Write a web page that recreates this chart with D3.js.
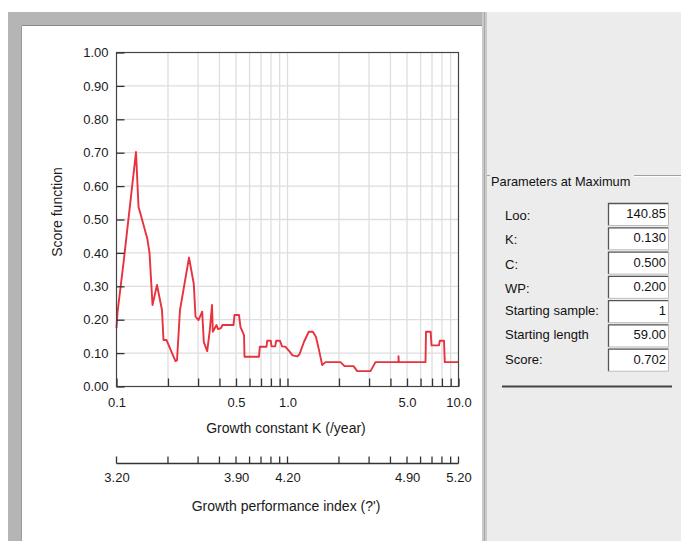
<!DOCTYPE html>
<html>
<head>
<meta charset="utf-8">
<script src="https://cdn.jsdelivr.net/npm/d3@7/dist/d3.min.js"></script>
<style>
  html, body { margin: 0; padding: 0; background: #ffffff; }
  svg { display: block; font-family: "Liberation Sans", Arial, sans-serif; }
</style>
</head>
<body>
<svg id="chart" width="681" height="541"></svg>
<script>
// ELEFAN-style score function scan over the growth constant K
const kValues = [
  0.100, 0.1014, 0.1099, 0.130, 0.1345, 0.1512, 0.1560, 0.1624, 0.1725, 0.1845,
  0.1883, 0.1961, 0.2213, 0.2259, 0.2351, 0.2655, 0.2832, 0.2897, 0.3017, 0.3171,
  0.3240, 0.3392, 0.3513, 0.3619, 0.3658, 0.3845, 0.3924, 0.4085, 0.4169, 0.4832,
  0.4898, 0.5205, 0.5311, 0.5568, 0.5605, 0.6813, 0.6887, 0.7538, 0.7610, 0.7987,
  0.8063, 0.8474, 0.8589, 0.9040, 0.9287, 0.9734, 1.0205, 1.0696, 1.1444, 1.1757,
  1.2490, 1.3321, 1.4061, 1.4680, 1.5287, 1.5959, 1.6681, 2.0417, 2.1544, 2.4322,
  2.5561, 3.0581, 3.2704, 4.4574, 4.4574, 4.476, 6.412, 6.455, 6.877, 6.952,
  7.691, 7.773, 8.226, 8.316, 10.0
];
const scoreValues = [
  0.175, 0.223, 0.370, 0.702, 0.538, 0.444, 0.400, 0.244, 0.304, 0.229,
  0.139, 0.139, 0.076, 0.079, 0.229, 0.386, 0.307, 0.209, 0.199, 0.224,
  0.133, 0.106, 0.169, 0.244, 0.164, 0.184, 0.172, 0.175, 0.184, 0.184,
  0.214, 0.214, 0.178, 0.154, 0.089, 0.089, 0.119, 0.119, 0.137, 0.137,
  0.120, 0.120, 0.137, 0.137, 0.120, 0.119, 0.107, 0.093, 0.090, 0.097,
  0.134, 0.164, 0.164, 0.148, 0.109, 0.064, 0.073, 0.073, 0.061, 0.061,
  0.046, 0.046, 0.073, 0.073, 0.091, 0.073, 0.073, 0.164, 0.164, 0.123,
  0.123, 0.137, 0.137, 0.073, 0.073
];

// axis ticks
const scoreTicks = [0, 0.1, 0.2, 0.3, 0.4, 0.5, 0.6, 0.7, 0.8, 0.9, 1.0];
const kTicks = [0.1, 0.2, 0.3, 0.4, 0.5, 0.6, 0.7, 0.8, 0.9, 1, 2, 3, 4, 5, 6, 7, 8, 9, 10];
const kLabelTicks = [0.1, 0.5, 1, 5, 10];
const kTickLabels = ["0.1", "0.5", "1.0", "5.0", "10.0"];
const phiLabelTicks = [3.2, 3.9, 4.2, 4.9, 5.2];
const phiTickLabels = ["3.20", "3.90", "4.20", "4.90", "5.20"];

// parameter panel
const paramLabels = ["Loo:", "K:", "C:", "WP:", "Starting sample:", "Starting length", "Score:"];
const paramValues = ["140.85", "0.130", "0.500", "0.200", "1", "59.00", "0.702"];

const svg = d3.select("#chart");

// ---- window chrome ----
svg.append("rect").attr("x", 487).attr("y", 12).attr("width", 194).attr("height", 529).attr("fill", "#ececec");
svg.append("rect").attr("x", 8).attr("y", 12).attr("width", 474).attr("height", 14).attr("fill", "#b5b5b5");
svg.append("rect").attr("x", 8).attr("y", 12).attr("width", 14).attr("height", 529).attr("fill", "#b5b5b5");
svg.append("rect").attr("x", 22).attr("y", 26).attr("width", 460).attr("height", 515).attr("fill", "#ffffff");
svg.append("line").attr("x1", 22).attr("x2", 482).attr("y1", 25.5).attr("y2", 25.5).attr("stroke", "#8a8a8a");
svg.append("line").attr("x1", 21.5).attr("x2", 21.5).attr("y1", 26).attr("y2", 541).attr("stroke", "#9a9a9a");
svg.append("rect").attr("x", 482).attr("y", 12).attr("width", 5).attr("height", 529).attr("fill", "#c9c9c9");
svg.append("line").attr("x1", 484.5).attr("x2", 484.5).attr("y1", 12).attr("y2", 541).attr("stroke", "#a8a8a8");

// ---- plot ----
const x = d3.scaleLog().domain([0.1, 10]).range([116.5, 458.5]);
const y = d3.scaleLinear().domain([0, 1]).range([386.5, 52.5]);
const phi = d3.scaleLinear().domain([3.2, 5.2]).range([116.5, 458.5]);

const plot = svg.append("g");

// grid
plot.append("g").selectAll("line").data(kTicks.slice(1, -1)).join("line")
  .attr("x1", d => x(d)).attr("x2", d => x(d))
  .attr("y1", y(0)).attr("y2", y(1))
  .attr("stroke", "#dedede").attr("stroke-width", 1.3);
plot.append("g").selectAll("line").data(scoreTicks.slice(1, -1)).join("line")
  .attr("x1", x(0.1)).attr("x2", x(10))
  .attr("y1", d => y(d)).attr("y2", d => y(d))
  .attr("stroke", "#dedede").attr("stroke-width", 1.3);

// score curve
const line = d3.line().x((d, i) => x(kValues[i])).y(d => y(d));
plot.append("path").datum(scoreValues)
  .attr("d", line)
  .attr("fill", "none")
  .attr("stroke", "#e8323e")
  .attr("stroke-width", 1.9)
  .attr("stroke-linejoin", "round");

// frame
plot.append("rect")
  .attr("x", x(0.1)).attr("y", y(1))
  .attr("width", x(10) - x(0.1)).attr("height", y(0) - y(1))
  .attr("fill", "none").attr("stroke", "#444").attr("stroke-width", 1.2);

const labelStyle = sel => sel.selectAll("text")
  .attr("fill", "#1a1a1a").style("font-size", "13px")
  .style("font-family", "'Liberation Sans', Arial, sans-serif");

// y axis
const yAxis = plot.append("g").attr("transform", `translate(${x(0.1)},0)`)
  .call(d3.axisLeft(y).tickValues(scoreTicks).tickSize(-8).tickPadding(8)
    .tickFormat(d3.format(".2f")));
yAxis.select(".domain").remove();
yAxis.selectAll("line").attr("stroke", "#333").attr("stroke-width", 1.3);
labelStyle(yAxis);

// K axis (bottom of plot)
const kLabelMap = new Map(kLabelTicks.map((v, i) => [v, kTickLabels[i]]));
const xAxis = plot.append("g").attr("transform", `translate(0,${y(0)})`)
  .call(d3.axisBottom(x).tickValues(kTicks).tickSize(-8).tickPadding(11)
    .tickFormat(d => kLabelMap.get(d) || ""));
xAxis.select(".domain").remove();
xAxis.selectAll("line").attr("stroke", "#333").attr("stroke-width", 1.3);
labelStyle(xAxis);

// growth performance index axis
const phiY = 463.5;
const phiAxis = svg.append("g").attr("transform", `translate(0,${phiY})`)
  .call(d3.axisBottom(phi).tickValues(phiLabelTicks).tickSize(0).tickPadding(9)
    .tickFormat((d, i) => phiTickLabels[i]));
phiAxis.select(".domain").remove();
labelStyle(phiAxis);
svg.append("line").attr("x1", x(0.1)).attr("x2", x(10)).attr("y1", phiY).attr("y2", phiY)
  .attr("stroke", "#333").attr("stroke-width", 1.3);
svg.append("g").selectAll("line").data(kTicks).join("line")
  .attr("x1", d => phi(Math.log10(d) + 4.2)).attr("x2", d => phi(Math.log10(d) + 4.2))
  .attr("y1", phiY - 7).attr("y2", phiY)
  .attr("stroke", "#333").attr("stroke-width", 1.3);

// axis titles
svg.append("text").attr("x", 286).attr("y", 433).attr("text-anchor", "middle")
  .attr("fill", "#1a1a1a").style("font-size", "14px").text("Growth constant K (/year)");
svg.append("text").attr("x", 286).attr("y", 511).attr("text-anchor", "middle")
  .attr("fill", "#1a1a1a").style("font-size", "14px").text("Growth performance index (?')");
svg.append("text").attr("transform", "translate(62,212) rotate(-90)").attr("text-anchor", "middle")
  .attr("fill", "#1a1a1a").style("font-size", "14px").text("Score function");

// ---- parameters group box ----
const panel = svg.append("g");
panel.append("line").attr("x1", 487).attr("x2", 490).attr("y1", 175.5).attr("y2", 175.5).attr("stroke", "#a0a0a0");
panel.append("line").attr("x1", 634).attr("x2", 681).attr("y1", 175.5).attr("y2", 175.5).attr("stroke", "#a0a0a0");
panel.append("line").attr("x1", 634).attr("x2", 681).attr("y1", 176.5).attr("y2", 176.5).attr("stroke", "#ffffff");
panel.append("text").attr("x", 491).attr("y", 186).attr("fill", "#111")
  .style("font-size", "12.8px").text("Parameters at Maximum");

const rowTop = d3.scaleLinear().domain([0, paramLabels.length]).range([203, 373]);
const rows = panel.selectAll("g.row").data(paramLabels).join("g").attr("class", "row");
rows.append("text")
  .attr("x", 505).attr("y", (d, i) => rowTop(i) + 16 + (i < 4 ? 1 : -1))
  .attr("fill", "#111").style("font-size", "13px").text(d => d);
rows.append("rect")
  .attr("x", 608).attr("y", (d, i) => rowTop(i) + 0.5)
  .attr("width", 60).attr("height", 22).attr("fill", "#ffffff");
rows.append("path")
  .attr("d", (d, i) => `M608.5,${rowTop(i) + 22.5}V${rowTop(i) + 0.5}H668.5`)
  .attr("fill", "none").attr("stroke", "#555").attr("stroke-width", 1.3);
rows.append("path")
  .attr("d", (d, i) => `M668.5,${rowTop(i) + 0.5}V${rowTop(i) + 22.5}H608.5`)
  .attr("fill", "none").attr("stroke", "#bdbdbd").attr("stroke-width", 1);
rows.append("text")
  .attr("x", 666).attr("y", (d, i) => rowTop(i) + 15)
  .attr("text-anchor", "end").attr("fill", "#111").style("font-size", "13px")
  .text((d, i) => paramValues[i]);

panel.append("line").attr("x1", 502).attr("x2", 672).attr("y1", 386.5).attr("y2", 386.5)
  .attr("stroke", "#444").attr("stroke-width", 2);
</script>
</body>
</html>
